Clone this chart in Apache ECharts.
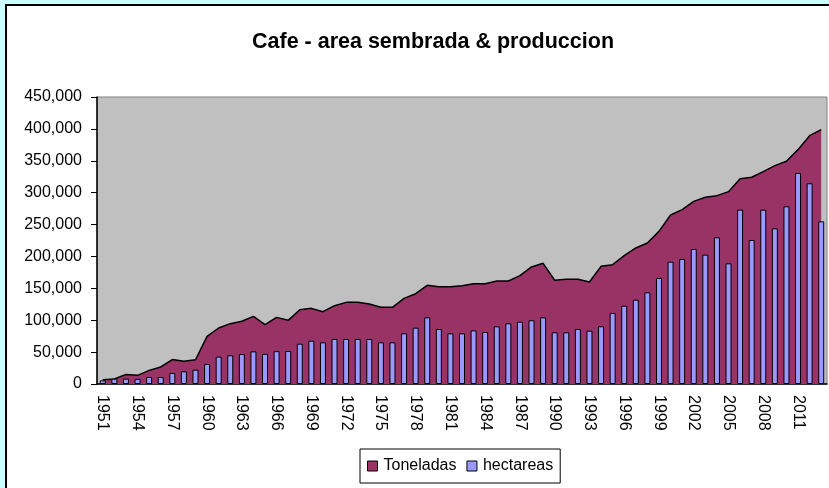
<!DOCTYPE html>
<html>
<head>
<meta charset="utf-8">
<script src="https://cdn.jsdelivr.net/npm/echarts@6/dist/echarts.min.js"></script>
<style>
    html, body {
        margin: 0;
        padding: 0;
        background: #ccffff;
        overflow: hidden;
    }
    .frame {
        position: absolute;
        left: 5px;
        top: 4px;
        width: 900px;
        height: 600px;
        border: 2px solid #000;
        background: #fff;
    }
    .line-container {
        position: absolute;
        left: 0;
        top: 0;
        width: 829px;
        height: 488px;
    }
</style>
</head>
<body>
<div class="frame"></div>
<div class="line-container" id="cafe-chart"></div>
<script>
// years on the category axis
const years = [
    '1951', '1952', '1953', '1954', '1955', '1956', '1957', '1958', '1959', '1960',
    '1961', '1962', '1963', '1964', '1965', '1966', '1967', '1968', '1969', '1970',
    '1971', '1972', '1973', '1974', '1975', '1976', '1977', '1978', '1979', '1980',
    '1981', '1982', '1983', '1984', '1985', '1986', '1987', '1988', '1989', '1990',
    '1991', '1992', '1993', '1994', '1995', '1996', '1997', '1998', '1999', '2000',
    '2001', '2002', '2003', '2004', '2005', '2006', '2007', '2008', '2009', '2010',
    '2011', '2012', '2013'
]

// produccion (area)
const toneladas = [
    6500, 8000, 15000, 13600, 21400, 26700, 38300, 35800, 38000, 74700,
    87800, 94600, 98300, 106000, 93000, 104500, 99800, 116500, 118600, 113400,
    122800, 128000, 128000, 125400, 120200, 120200, 134300, 141600, 154700, 152600,
    152600, 154200, 157300, 157300, 161500, 161500, 169900, 183500, 189200, 162600,
    164100, 164100, 160000, 184500, 187100, 201200, 213300, 221100, 239400, 265000,
    273400, 286400, 292700, 295300, 301600, 322000, 324100, 333000, 342400, 349200,
    367500, 389400, 398800
]

// area sembrada (bars)
const hectareas = [
    5700, 8400, 8400, 7800, 11000, 11000, 17300, 19900, 22500, 31400,
    42900, 45000, 47000, 51200, 47300, 51500, 51700, 63200, 67900, 65300,
    70600, 70600, 70600, 70600, 65300, 65300, 79400, 88300, 104500, 86200,
    79400, 79400, 84100, 81500, 90400, 95100, 97700, 100000, 104500, 81000,
    81000, 86200, 83600, 90400, 111300, 122800, 132200, 143700, 166200, 191800,
    196000, 211700, 202800, 230000, 189200, 273400, 225800, 273400, 244100, 278600,
    330900, 314700, 255100
]

const font = 'Liberation Sans, Arial, sans-serif'

let myChart = echarts.init(document.getElementById('cafe-chart'))

let option = {
    animation: false,
    title: {
        text: 'Cafe - area sembrada & produccion',
        left: 428,
        top: 26,
        textAlign: 'center',
        textStyle: {
            fontFamily: font,
            fontSize: 21.5,
            fontWeight: 'bold',
            color: '#000'
        }
    },
    legend: {
        left: 360,
        top: 449,
        padding: [9, 7, 9, 7],
        itemWidth: 10,
        itemHeight: 10,
        itemGap: 10,
        borderColor: '#000',
        borderWidth: 1,
        backgroundColor: '#fff',
        textStyle: {
            fontFamily: font,
            fontSize: 16,
            color: '#000',
            padding: [0, 0, 0, 1]
        },
        data: [
            {
                name: 'Toneladas',
                icon: 'rect',
                itemStyle: { color: '#993366', borderColor: '#000', borderWidth: 1 }
            },
            {
                name: 'hectareas',
                icon: 'rect',
                itemStyle: { color: '#9999ff', borderColor: '#000', borderWidth: 1 }
            }
        ]
    },
    grid: {
        left: 97,
        right: 2,
        top: 97,
        bottom: 104,
        show: true,
        backgroundColor: '#c0c0c0',
        borderColor: '#808080',
        borderWidth: 1
    },
    xAxis: {
        type: 'category',
        data: years,
        boundaryGap: true,
        axisLine: { lineStyle: { color: '#000', width: 1.5 } },
        axisTick: {
            interval: 0,
            length: 4,
            lineStyle: { color: '#000' }
        },
        axisLabel: {
            interval: 2,
            rotate: -90,
            margin: 11,
            fontFamily: font,
            fontSize: 16,
            color: '#000'
        },
        splitLine: { show: false }
    },
    yAxis: {
        type: 'value',
        min: 0,
        max: 450000,
        interval: 50000,
        axisLine: { show: true, lineStyle: { color: '#000', width: 1.5 } },
        axisTick: {
            show: true,
            length: 6,
            lineStyle: { color: '#000' }
        },
        axisLabel: {
            margin: 15,
            fontFamily: font,
            fontSize: 16,
            color: '#000',
            formatter: function (v) {
                return v.toLocaleString('en-US')
            }
        },
        splitLine: { show: false }
    },
    series: [
        {
            name: 'Toneladas',
            type: 'line',
            data: toneladas,
            z: 1,
            showSymbol: false,
            symbol: 'none',
            lineStyle: { color: '#000', width: 1.5 },
            itemStyle: { color: '#993366' },
            areaStyle: { color: '#993366', opacity: 1 }
        },
        {
            name: 'hectareas',
            type: 'bar',
            data: hectareas,
            z: 3,
            barWidth: 6,
            itemStyle: {
                color: '#9999ff',
                borderColor: '#000',
                borderWidth: 1
            }
        }
    ]
}
myChart.setOption(option)
</script>
</body>
</html>
